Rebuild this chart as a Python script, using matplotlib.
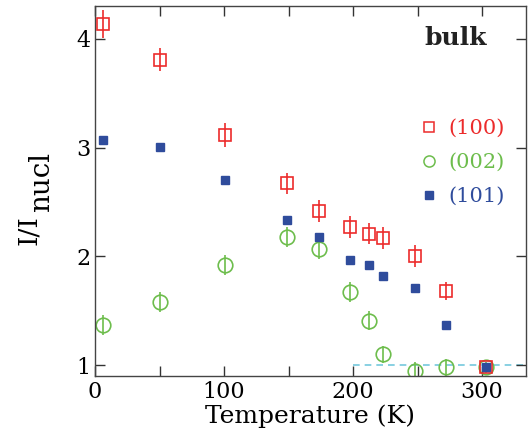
import matplotlib
matplotlib.use("Agg")
import matplotlib.pyplot as plt
from matplotlib.lines import Line2D

plt.rcParams['font.family'] = ['DejaVu Serif']
plt.rcParams['mathtext.fontset'] = 'dejavuserif'

# temperatures (K)
T = [6, 50, 101, 149, 174, 198, 212, 223, 248, 272, 303]

# (100) red open squares
i100 = [4.14, 3.81, 3.12, 2.67, 2.42, 2.27, 2.21, 2.17, 2.00, 1.68, 0.98]
e100 = [0.13, 0.11, 0.11, 0.10, 0.10, 0.10, 0.10, 0.10, 0.10, 0.08, 0.04]

# (002) green open circles
i002 = [1.37, 1.58, 1.92, 2.18, 2.07, 1.67, 1.41, 1.10, 0.95, 0.98, 0.98]
e002 = [0.09, 0.09, 0.09, 0.09, 0.09, 0.09, 0.09, 0.08, 0.08, 0.08, 0.05]

# (101) blue filled squares
i101 = [3.07, 3.01, 2.70, 2.33, 2.18, 1.97, 1.92, 1.82, 1.71, 1.37, 0.98]
e101 = [0.04, 0.03, 0.03, 0.03, 0.03, 0.03, 0.03, 0.03, 0.03, 0.03, 0.03]

labels = ['(100)', '(002)', '(101)']
red, green, blue = '#ec2b2b', '#6dbd4c', '#2f4c9c'

fig = plt.figure(figsize=(5.28, 4.46), dpi=100)
ax = fig.add_axes([0.18, 0.157, 0.816, 0.829])

ax.plot([200, 340], [1, 1], ls=(0, (4, 3)), color='#74c8dd', lw=1.2, zorder=1)

ax.errorbar(T, i002, yerr=e002, fmt='o', ms=10.5, mfc='none', mec=green,
            mew=1.2, ecolor=green, elinewidth=1.2, capsize=0, zorder=2)
ax.errorbar(T, i100, yerr=e100, fmt='s', ms=8, mfc='none', mec=red,
            mew=1.2, ecolor=red, elinewidth=1.2, capsize=0, zorder=3)
ax.errorbar(T, i101, yerr=e101, fmt='s', ms=5.6, mfc=blue, mec=blue,
            ecolor=blue, elinewidth=1.0, capsize=0, zorder=4)

ax.set_xlim(0, 334)
ax.set_ylim(0.9, 4.3)
ax.set_xticks([0, 100, 200, 300])
ax.set_xticks([50, 150, 250], minor=True)
ax.set_yticks([1, 2, 3, 4])
ax.tick_params(which='both', direction='in', top=True, right=True,
               length=7, width=1, labelsize=16, color='#333333')

for s in ax.spines.values():
    s.set_color('#444444')
    s.set_linewidth(1)

ax.set_xlabel('Temperature (K)', fontsize=18, labelpad=1)

# y label: I/I with a full-size, lowered "nucl" subscript
fig.text(0.068, 0.4507, 'I/I', rotation=90, rotation_mode='anchor',
         ha='left', va='baseline', fontsize=19)
fig.text(0.0935, 0.524, 'nucl', rotation=90, rotation_mode='anchor',
         ha='left', va='baseline', fontsize=20)

ax.text(0.91, 0.913, 'bulk', transform=ax.transAxes, fontsize=18,
        fontweight='bold', ha='right', va='center', color='#222222')

handles = [
    Line2D([], [], ls='none', marker='s', ms=7, mfc='none', mec=red, mew=1.1),
    Line2D([], [], ls='none', marker='o', ms=8, mfc='none', mec=green, mew=1.1),
    Line2D([], [], ls='none', marker='s', ms=5.5, mfc=blue, mec=blue),
]
leg = ax.legend(handles, labels, loc='upper right', bbox_to_anchor=(0.995, 0.745),
                frameon=False, fontsize=15, handlelength=0.8, handletextpad=0.55,
                labelspacing=0.72, labelcolor=[red, green, blue])

fig.savefig('out.png', dpi=100)
